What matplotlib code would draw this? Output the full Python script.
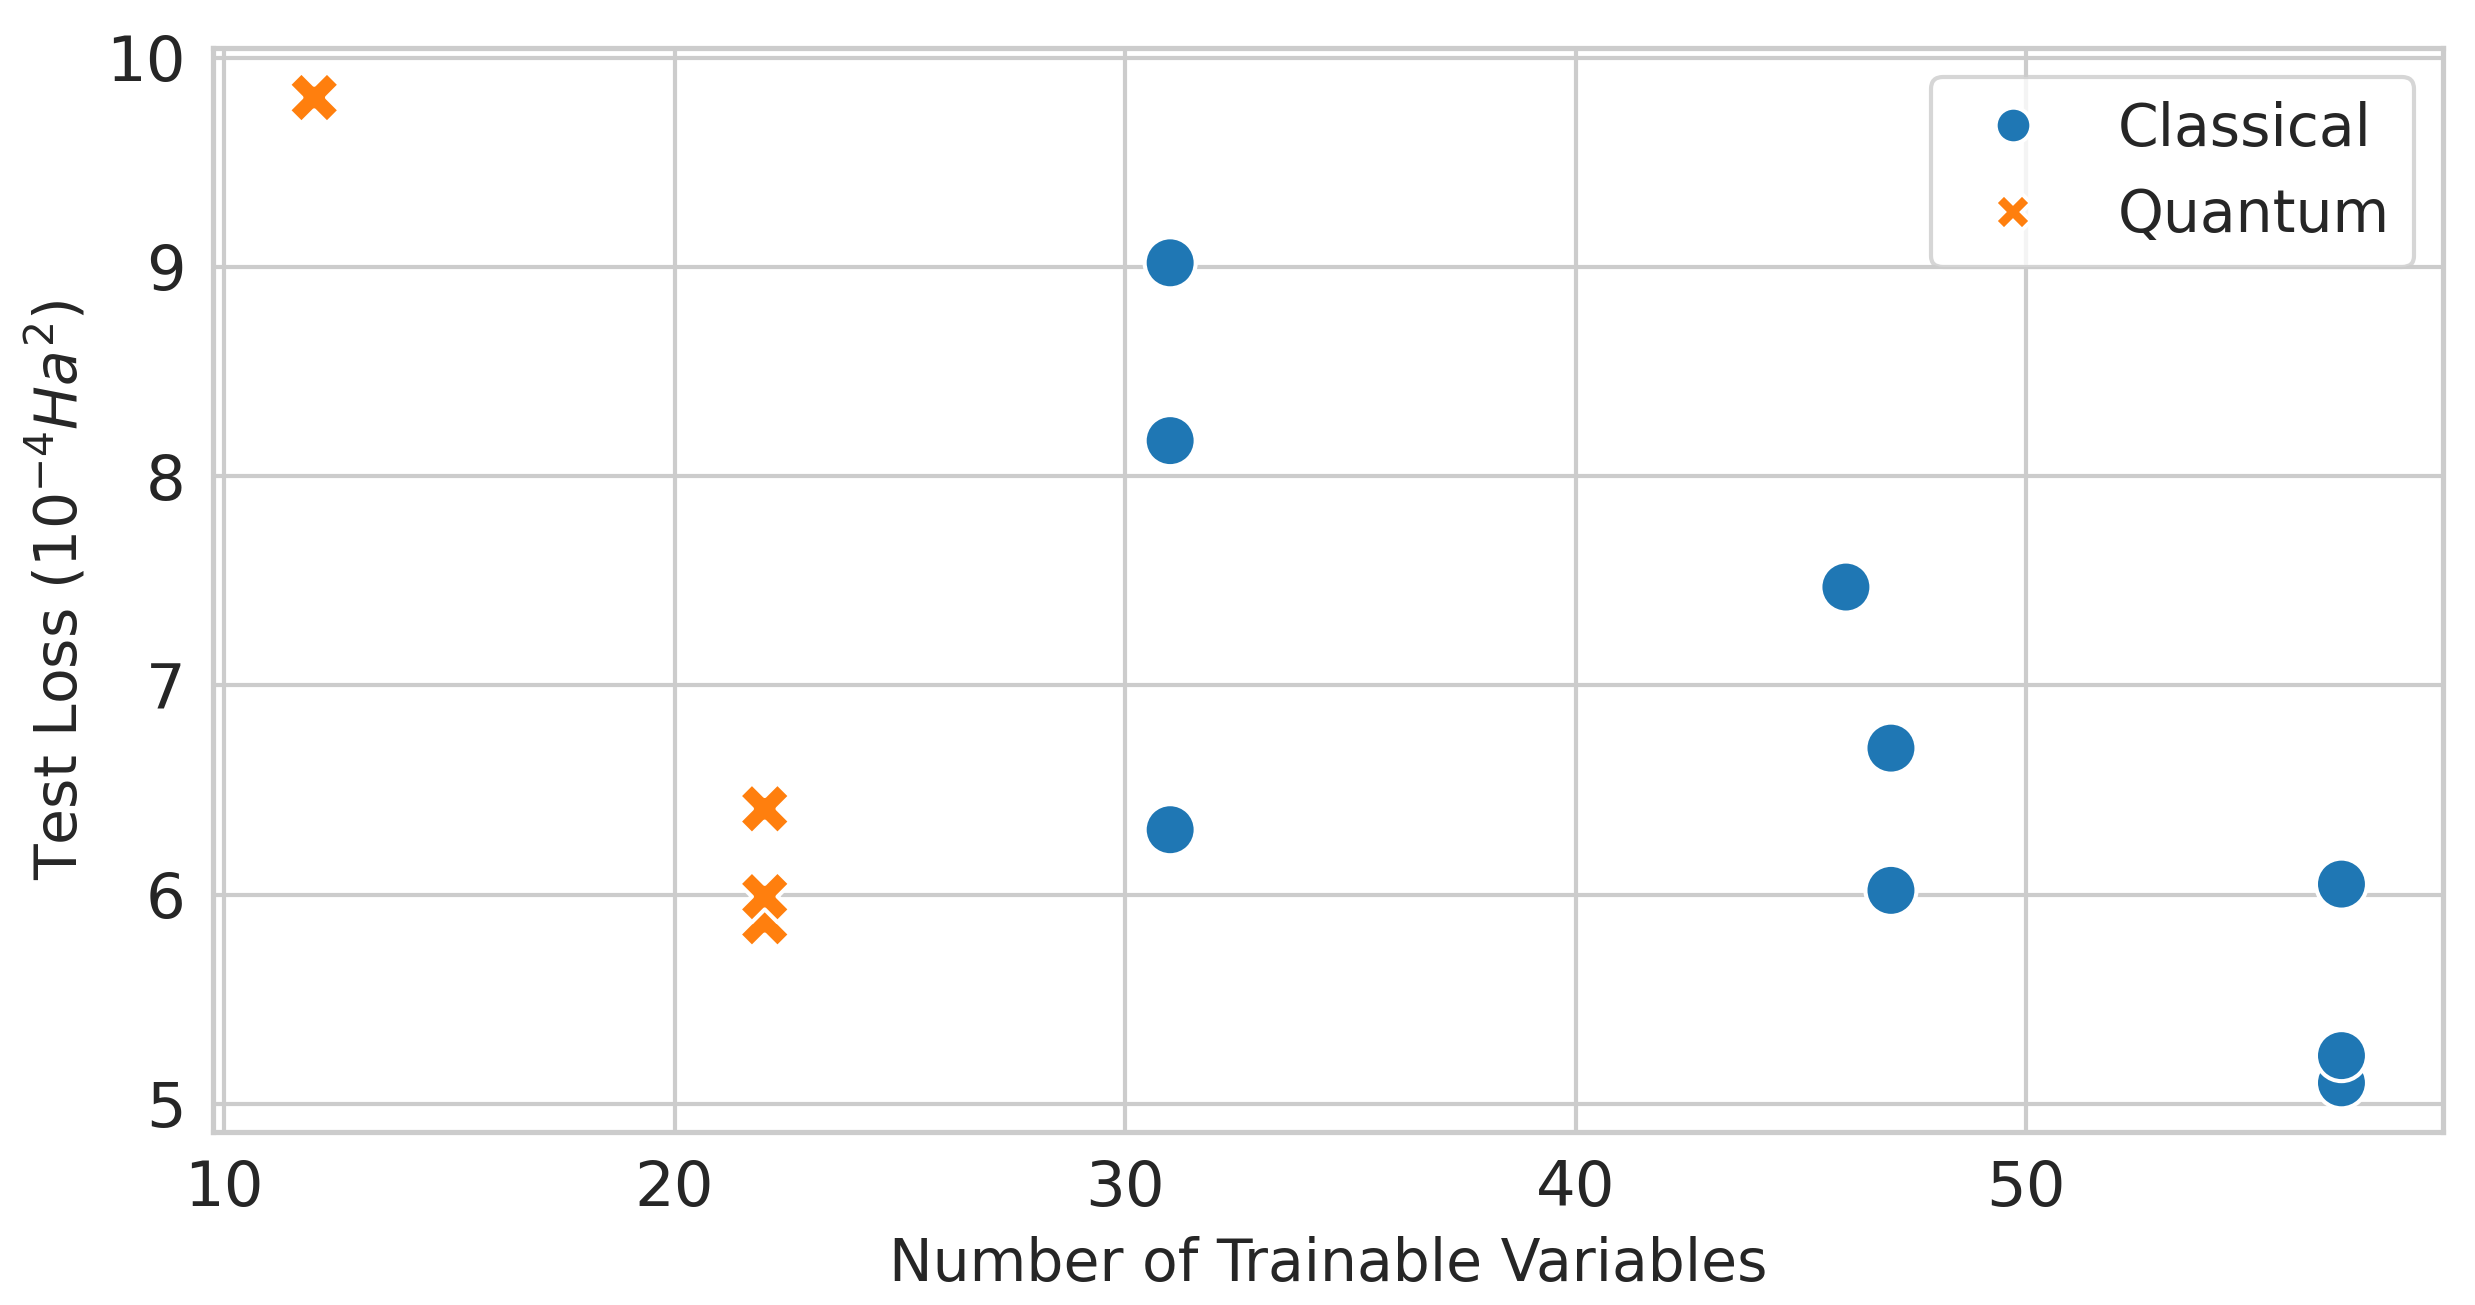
import numpy as np
import pandas as pd
import seaborn as sns
import matplotlib
matplotlib.use("Agg")
import matplotlib.pyplot as plt

# data
classical_vars = [31, 31, 31, 46, 47, 47, 57, 57, 57]
classical_loss = [9.02, 8.17, 6.31, 7.47, 6.70, 6.02, 6.05, 5.10, 5.23]
quantum_vars = [12, 22, 22, 22]
quantum_loss = [9.81, 6.41, 5.87, 5.99]

df = pd.DataFrame({
    "vars": classical_vars + quantum_vars,
    "loss": classical_loss + quantum_loss,
    "model": ["Classical"] * len(classical_vars) + ["Quantum"] * len(quantum_vars),
})

sns.set_theme(style="whitegrid")

fig, ax = plt.subplots(figsize=(8.25, 4.35), dpi=300)
sns.scatterplot(data=df, x="vars", y="loss", hue="model", style="model",
                palette=["#1f77b4", "#ff7f0e"], s=150, ax=ax)

ax.set_xlabel("Number of Trainable Variables", fontsize=14)
ax.set_ylabel("Test Loss ($10^{-4} Ha^2$)", fontsize=14)
ax.set_yticks([5, 6, 7, 8, 9, 10])
ax.set_xticks([10, 20, 30, 40, 50])
ax.tick_params(labelsize=15, pad=0.5)
leg = ax.legend(loc="upper right", fontsize=14, markerscale=0.7,
                handletextpad=0.8)

fig.subplots_adjust(left=0.086, right=0.987, top=0.963, bottom=0.1325)
fig.savefig("out.png", dpi=300)
